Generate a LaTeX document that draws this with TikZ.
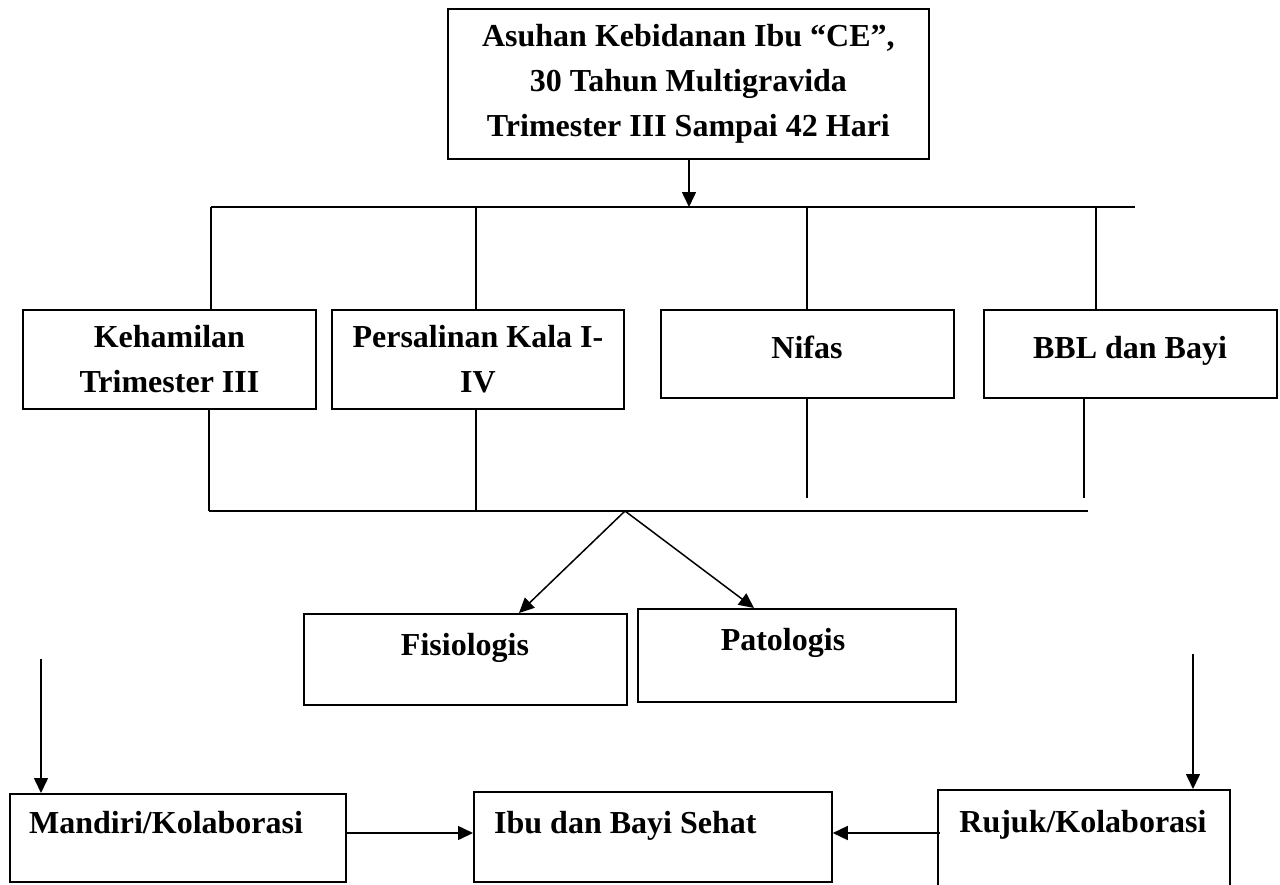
\documentclass[tikz,border=0pt]{standalone}
\usepackage{fontspec}
\setmainfont{Liberation Serif}
\usetikzlibrary{arrows.meta,calc}
\begin{document}
\begin{tikzpicture}[x=1pt,y=-1pt,
  box/.style={draw,line width=1.8pt,inner sep=0pt,anchor=north west,
    font=\fontsize{32}{45}\selectfont\bfseries,align=center},
  txt/.style={font=\fontsize{32}{45}\selectfont\bfseries,inner sep=0pt},
  ln/.style={line width=1.5pt},
  arr/.style={line width=1.5pt,-{Triangle[length=15pt,width=14pt]}}]
\useasboundingbox (0,0) rectangle (1280,884);
% boxes
\node[box,minimum width=481pt,minimum height=150pt] (top) at (447,8)
  {Asuhan Kebidanan Ibu “CE”,\\30 Tahun Multigravida\\Trimester III Sampai 42 Hari};
\node[box,minimum width=293pt,minimum height=99pt] (keh) at (22,309) {Kehamilan\\Trimester III};
\node[box,minimum width=292pt,minimum height=99pt] (per) at (331,309) {Persalinan Kala I-\\IV};
\node[box,minimum width=293pt,minimum height=88pt] (nif) at (660,309) {};
\node[box,minimum width=293pt,minimum height=88pt] (bbl) at (983,309) {};
\node[box,minimum width=323pt,minimum height=91pt] (fis) at (303,613) {};
\node[box,minimum width=318pt,minimum height=93pt] (pat) at (637,608) {};
\node[box,minimum width=336pt,minimum height=88pt] (man) at (9,793) {};
\node[box,minimum width=358pt,minimum height=90pt] (ibu) at (473,791) {};
\node[box,minimum width=292pt,minimum height=130pt] (ruj) at (937,789) {};
% texts
\node[txt,anchor=base] (nift) at (807,358) {Nifas};
\node[txt,anchor=base] (bblt) at (1130,358) {BBL dan Bayi};
\node[txt,anchor=base] (fist) at (465,655) {Fisiologis};
\node[txt,anchor=base] (patt) at (783,650) {Patologis};
\node[txt,anchor=base west] (mant) at (29,833) {Mandiri/Kolaborasi};
\node[txt,anchor=base west] (ibut) at (494,833) {Ibu dan Bayi Sehat};
\node[txt,anchor=base] (rujt) at (1083,832) {Rujuk/Kolaborasi};
% coordinates
\coordinate (b1) at (211,207);
\coordinate (b2) at (476,207);
\coordinate (b3) at (807,207);
\coordinate (b4) at (1096,207);
\coordinate (bend) at (1135,207);
\coordinate (l1) at (209,511);
\coordinate (l2) at (476,511);
\coordinate (l3) at (807,498);
\coordinate (l4) at (1084,498);
\coordinate (lend) at (1088,511);
\coordinate (apex) at (625,511);
\coordinate (lt) at (41,659);
\coordinate (rt) at (1193,654);
\coordinate (hy) at (0,833);
% connectors
\draw[arr] (top.south -| 689,0) -- (b1 -| 689,0);
\draw[ln] (b1) -- (bend);
\draw[ln] (b1) -- (b1 |- keh.north);
\draw[ln] (b2) -- (b2 |- per.north);
\draw[ln] (b3) -- (b3 |- nif.north);
\draw[ln] (b4) -- (b4 |- bbl.north);
\draw[ln] (l1 |- keh.south) -- (l1);
\draw[ln] (l2 |- per.south) -- (l2);
\draw[ln] (l3 |- nif.south) -- (l3);
\draw[ln] (l4 |- bbl.south) -- (l4);
\draw[ln] (l1) -- (lend);
\draw[arr] (apex) -- ($(fis.north west)+(216,0)$);
\draw[arr] (apex) -- ($(pat.north west)+(117,0)$);
\draw[arr] (lt) -- (lt |- man.north);
\draw[arr] (rt) -- (rt |- ruj.north);
\draw[arr] (man.east |- hy) -- (ibu.west |- hy);
\draw[arr] ($(ruj.west |- hy)+(3,0)$) -- (ibu.east |- hy);
\end{tikzpicture}
\end{document}
